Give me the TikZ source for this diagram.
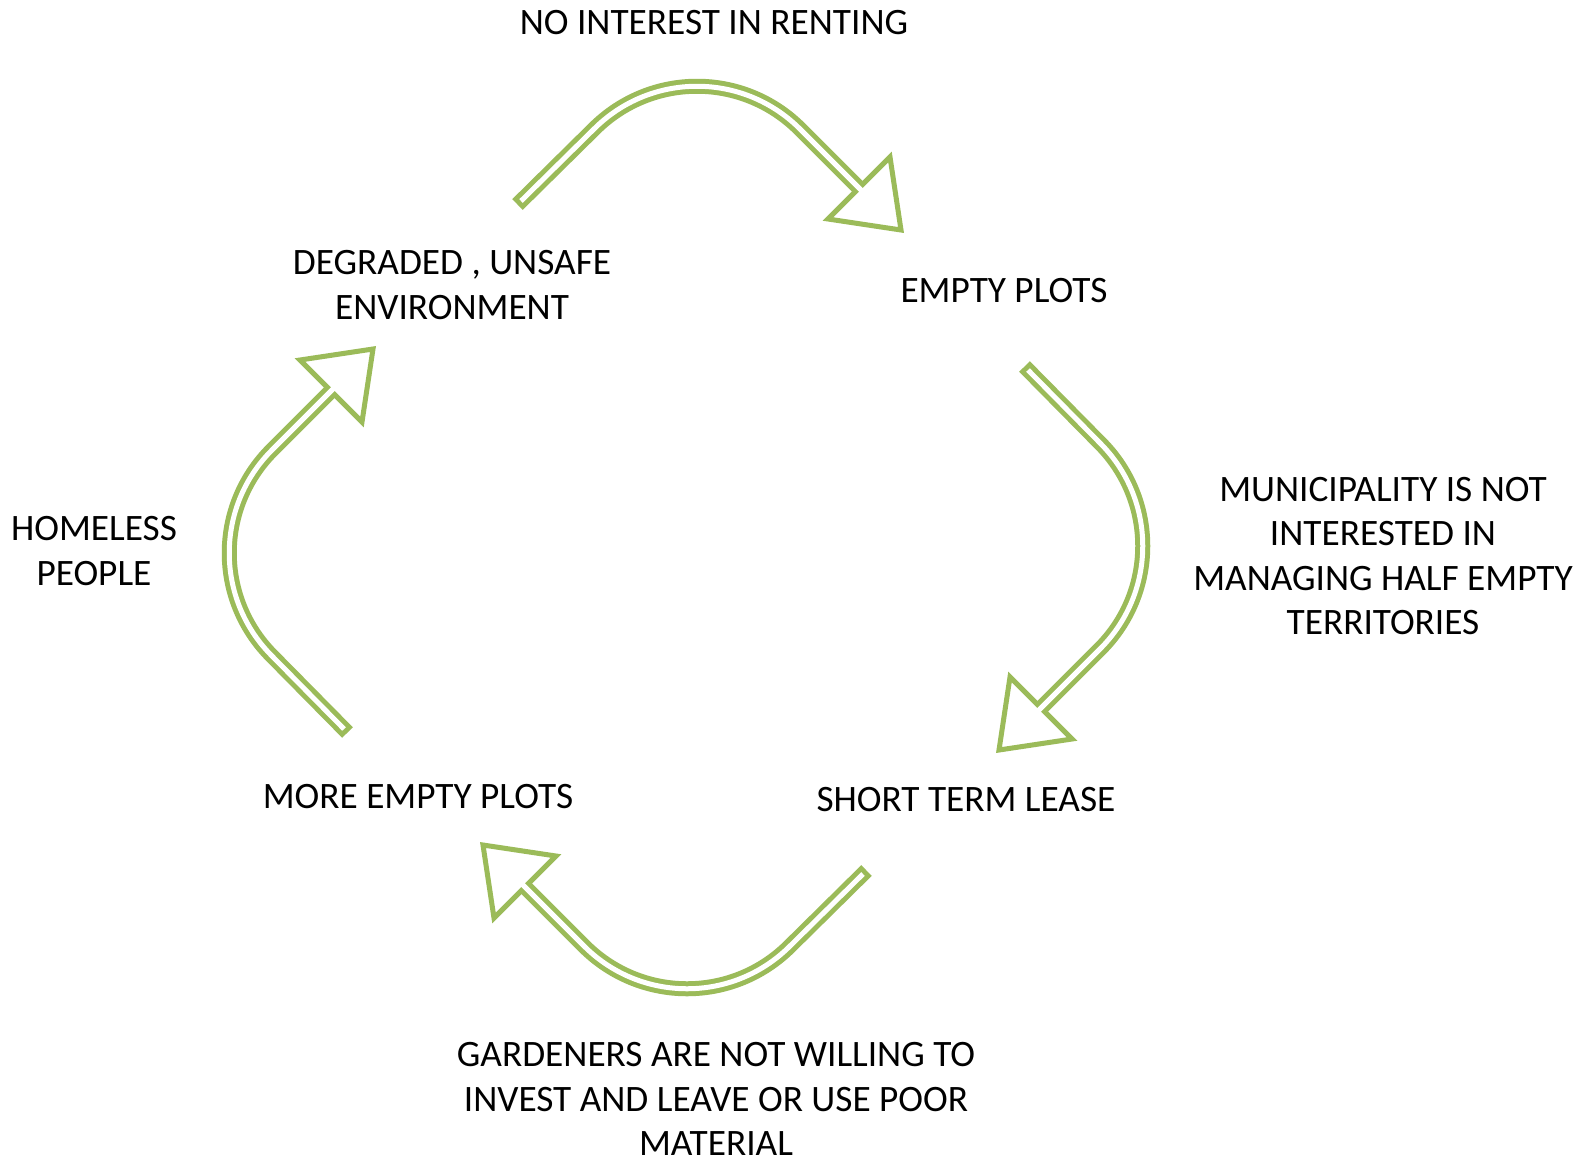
\documentclass[tikz,border=0pt]{standalone}
\usepackage{fontspec}
\setmainfont{Carlito}
\definecolor{ogreen}{HTML}{9BBB59}
\begin{document}
\begin{tikzpicture}[x=1pt,y=-1pt,
  lbl/.style={font=\fontsize{37.3}{44.5}\selectfont, align=center, inner sep=0pt, text=black},
  cyc/.pic={
    \draw[ogreen, line width=15pt] (-179.5,-27.5) -- (-103,-103) .. controls (-46,-160) and (46,-160) .. (103,-103) -- (162,-44);
    \draw[ogreen, line width=5pt, fill=white, line join=miter] (193,-75) -- (204,-2) -- (131,-13) -- cycle;
    \draw[white, line width=5pt] (-176,-31) -- (-103,-103) .. controls (-46,-160) and (46,-160) .. (103,-103) -- (165.5,-40.5);
  }]
\fill[white] (0,0) rectangle (1585,1160);
\clip (0,0) rectangle (1585,1160);
\pic at (697,232) {cyc};
\pic[rotate=-90] at (997,546) {cyc};
\pic[rotate=180] at (687,843) {cyc};
\pic[rotate=90] at (375,553) {cyc};
\node[lbl] (norent) at (714,23) {NO INTEREST IN RENTING};
\node[lbl] (degraded) at (452,285) {DEGRADED , UNSAFE\\ENVIRONMENT};
\node[lbl] (empty) at (1004,291) {EMPTY PLOTS};
\node[lbl] (munic) at (1383,556) {MUNICIPALITY IS NOT\\INTERESTED IN\\MANAGING HALF EMPTY\\TERRITORIES};
\node[lbl] (lease) at (966,800) {SHORT TERM LEASE};
\node[lbl] (more) at (418,797) {MORE EMPTY PLOTS};
\node[lbl] (homeless) at (94,551) {HOMELESS\\PEOPLE};
\node[lbl] (garden) at (716,1099) {GARDENERS ARE NOT WILLING TO\\INVEST AND LEAVE OR USE POOR\\MATERIAL};
\end{tikzpicture}
\end{document}
